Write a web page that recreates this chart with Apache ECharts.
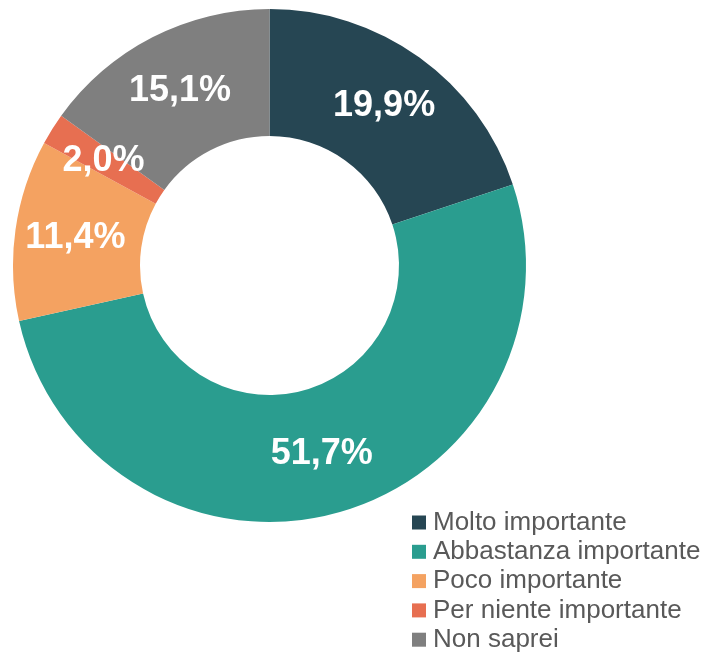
<!DOCTYPE html>
<html>
<head>
<meta charset="utf-8">
<script src="https://cdn.jsdelivr.net/npm/echarts@6/dist/echarts.min.js"></script>
<style>
html,body{margin:0;padding:0;background:#fff;}
#chart{width:709px;height:654px;}
</style>
</head>
<body>
<div id="chart"></div>
<script>
var categories = ["Molto importante", "Abbastanza importante", "Poco importante", "Per niente importante", "Non saprei"];
var values = [19.9, 51.7, 11.4, 2.0, 15.1];
var colors = ["#264653", "#2a9d8f", "#f4a261", "#e76f51", "#7f7f7f"];

var chart = echarts.init(document.getElementById('chart'), null, {renderer: 'canvas'});
var data = categories.map(function (c, i) {
  return { name: c, value: values[i], itemStyle: { color: colors[i] } };
});
chart.setOption({
  animation: false,
  legend: {
    orient: 'vertical',
    left: 412,
    top: 509.5,
    padding: 0,
    itemWidth: 14,
    itemHeight: 14,
    itemGap: 3.3,
    icon: 'rect',
    data: categories,
    textStyle: {
      fontFamily: 'Liberation Sans, Arial, sans-serif',
      fontSize: 26,
      color: '#595959',
      padding: [0, 0, 0, 2]
    }
  },
  series: [{
    type: 'pie',
    center: [269.5, 265.5],
    radius: [129.5, 256.5],
    startAngle: 90,
    clockwise: true,
    avoidLabelOverlap: false,
    data: data,
    label: {
      show: true,
      position: 'inside',
      color: '#ffffff',
      fontFamily: 'Liberation Sans, Arial, sans-serif',
      fontWeight: 'bold',
      fontSize: 36,
      formatter: function (p) { return p.value.toFixed(1).replace('.', ',') + '%'; }
    },
    labelLine: { show: false },
    emphasis: { disabled: true }
  }]
});
</script>
</body>
</html>
